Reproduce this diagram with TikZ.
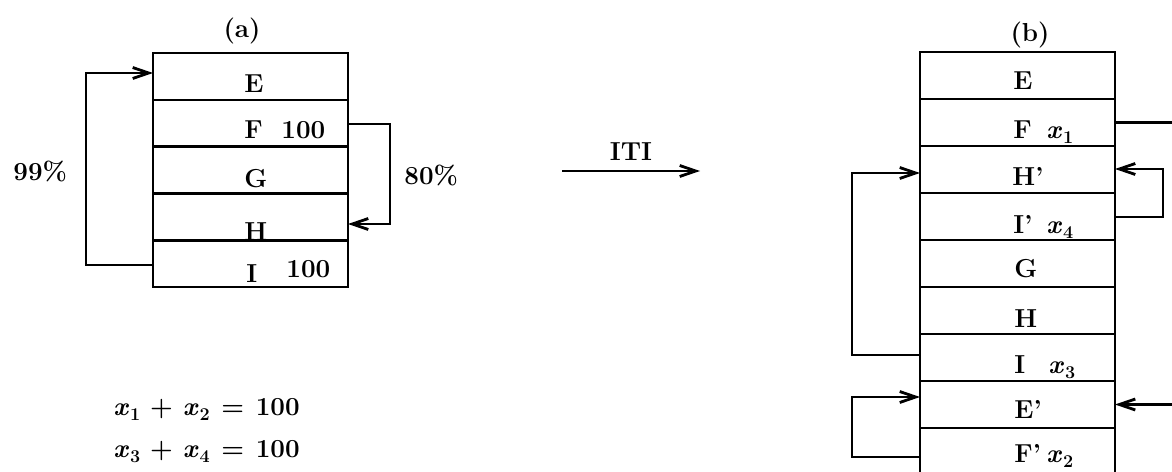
\documentclass[tikz,border=0pt]{standalone}
\usepackage{fontspec}
\usetikzlibrary{arrows.meta}
\newcommand\xvar[1]{\textit{x}\kern0.04em\raisebox{-0.22em}{\fontsize{18}{20}\selectfont #1}}
\begin{document}
\begin{tikzpicture}[x=1pt,y=-1pt,line width=2.8pt,
  row/.style={draw,minimum width=195pt,minimum height=47pt,inner sep=0pt,outer sep=0pt,anchor=north west},
  lbl/.style={anchor=base west,inner sep=0pt,font=\fontsize{26}{31}\selectfont\bfseries},
  ttl/.style={anchor=base,inner sep=0pt,font=\fontsize{26}{31}\selectfont\bfseries},
  arr/.style={-{Straight Barb[length=16pt,width=11pt,line width=2.8pt]}}]
\useasboundingbox (0,0) rectangle (1172,471);
% ---------- (a)
\node[ttl] (ta) at (242,37) {(a)};
\node[row] (aE) at (153,53) {};
\node[row] (aF) at (153,100) {};
\node[row] (aG) at (153,146.5) {};
\node[row] (aH) at (153,193.5) {};
\node[row] (aI) at (153,240) {};
\node[lbl] (laE) at (243,92) {E};
\node[lbl] (laF) at (243,138) {F};
\node[lbl] (naF) at (280,138) {100};
\node[lbl] (laG) at (243,187) {G};
\node[lbl] (laH) at (243,240) {H};
\node[lbl] (laI) at (245,282) {I};
\node[lbl] (naI) at (285,277) {100};
\node[lbl] (p99) at (12,180) {99\%};
\node[lbl] (p80) at (403,184) {80\%};
\draw[arr] ([yshift=-1.5pt]aI.west) -- ++(-67,0) |- ([yshift=3.5pt]aE.west);
\draw[arr] ([yshift=-0.5pt]aF.east) -- ++(42,0) |- ([yshift=-7pt]aH.east);
% ---------- ITI
\coordinate (itiA) at (562,171);
\coordinate (itiB) at (700,171);
\draw[arr] (itiA) -- (itiB);
\node[ttl] (iti) at (631,160) {ITI};
% ---------- (b)
\node[ttl] (tb) at (1030,41) {(b)};
\node[row] (bE) at (920,52) {};
\node[row] (bF) at (920,99) {};
\node[row] (bHp) at (920,146) {};
\node[row] (bIp) at (920,193) {};
\node[row] (bG) at (920,240) {};
\node[row] (bH) at (920,287) {};
\node[row] (bI) at (920,334) {};
\node[row] (bEp) at (920,381) {};
\node[row] (bFp) at (920,428) {};
\node[lbl] (lbE) at (1012,89) {E};
\node[lbl] (lbF) at (1012,138) {F};
\node[lbl] (xbF) at (1045,138) {\xvar{1}};
\node[lbl] (lbHp) at (1011,185) {H'};
\node[lbl] (lbIp) at (1012,233) {I'};
\node[lbl] (xbIp) at (1045,233) {\xvar{4}};
\node[lbl] (lbG) at (1013,277) {G};
\node[lbl] (lbH) at (1013,327) {H};
\node[lbl] (lbI) at (1013,373) {I};
\node[lbl] (xbI) at (1047,373) {\xvar{3}};
\node[lbl] (lbEp) at (1013,418) {E'};
\node[lbl] (lbFp) at (1013,462) {F'};
\node[lbl] (xbFp) at (1045,462) {\xvar{2}};
\coordinate (outF) at (1176,122.5);
\coordinate (inE) at (1176,404.5);
\draw (bF.east) -- (outF);
\draw[arr] (inE) -- (bEp.east);
\draw[arr] ([yshift=-0.5pt]bIp.east) -- ++(48,0) |- ([yshift=0.5pt]bHp.east);
\draw[arr] ([yshift=2.5pt]bI.west) -- ++(-68,0) |- ([yshift=-3.5pt]bHp.west);
\draw[arr] ([yshift=-5.5pt]bFp.west) -- ++(-68,0) |- ([yshift=7.5pt]bEp.west);
% ---------- equations
\node[lbl] (eq1) at (112,415) {\xvar{1}\hspace{0.38em}+\hspace{0.38em}\xvar{2}\hspace{0.45em}=\hspace{0.45em}100};
\node[lbl] (eq2) at (112,457) {\xvar{3}\hspace{0.38em}+\hspace{0.38em}\xvar{4}\hspace{0.45em}=\hspace{0.45em}100};
\end{tikzpicture}
\end{document}
